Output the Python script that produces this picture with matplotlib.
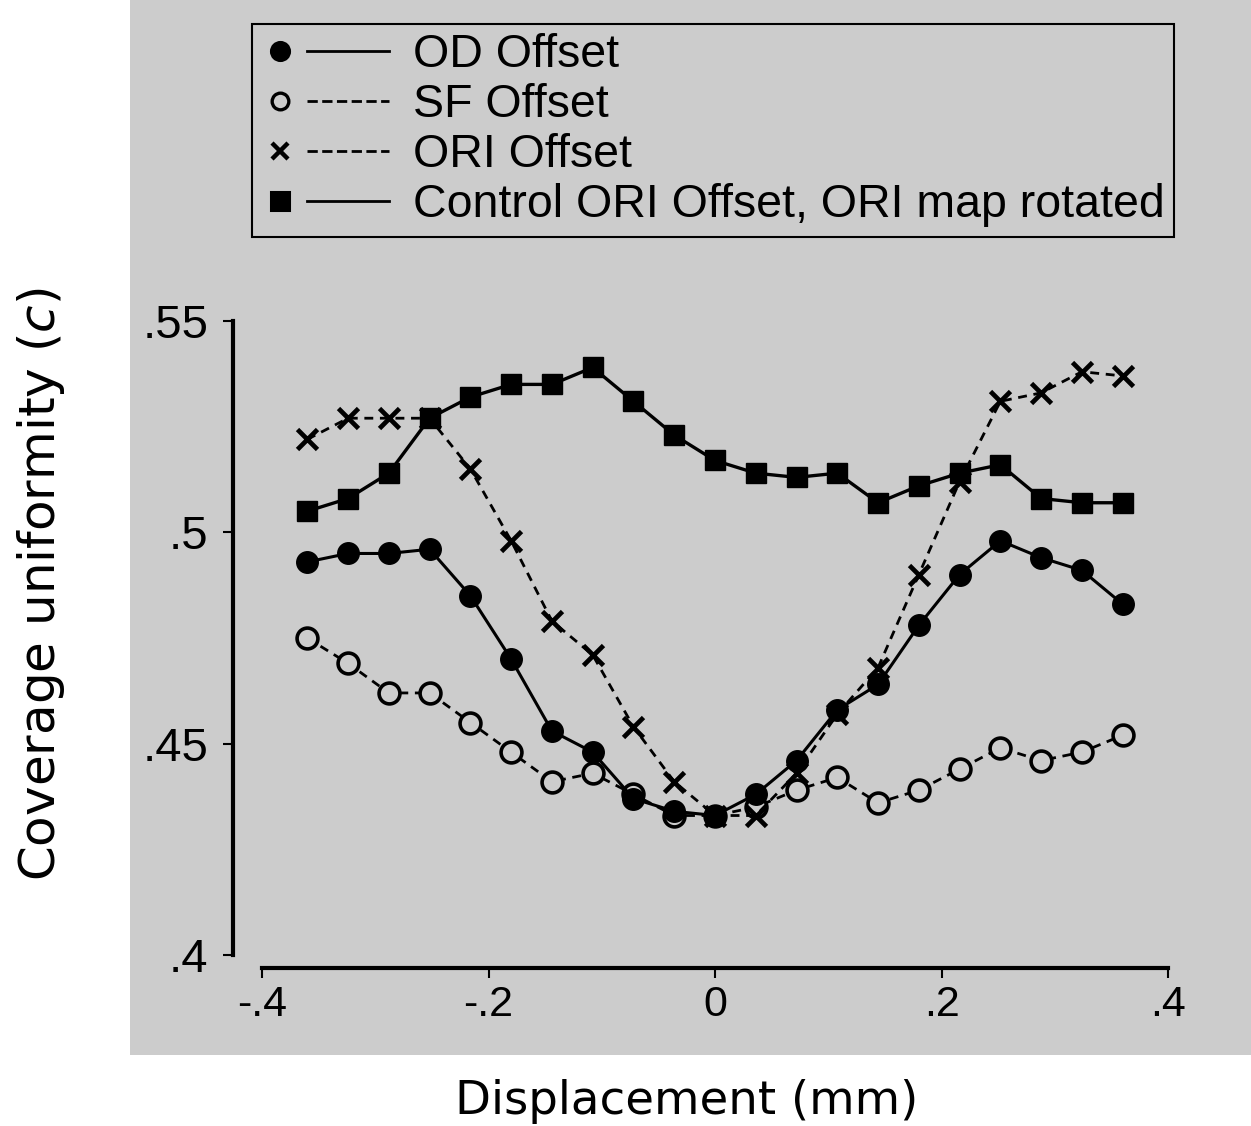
import matplotlib
matplotlib.use("Agg")
import matplotlib.pyplot as plt
from matplotlib.lines import Line2D
from matplotlib.patches import Rectangle
from matplotlib.legend_handler import HandlerBase

# displacement of the offset map (mm)
displacement = [-0.36, -0.324, -0.288, -0.252, -0.216, -0.18, -0.144, -0.108, -0.072, -0.036, 0.0,
                0.036, 0.072, 0.108, 0.144, 0.18, 0.216, 0.252, 0.288, 0.324, 0.36]

od_offset = [0.493, 0.495, 0.495, 0.496, 0.485, 0.470, 0.453, 0.448, 0.437, 0.434, 0.433,
             0.438, 0.446, 0.458, 0.464, 0.478, 0.490, 0.498, 0.494, 0.491, 0.483]
sf_offset = [0.475, 0.469, 0.462, 0.462, 0.455, 0.448, 0.441, 0.443, 0.438, 0.433, 0.433,
             0.435, 0.439, 0.442, 0.436, 0.439, 0.444, 0.449, 0.446, 0.448, 0.452]
ori_offset = [0.522, 0.527, 0.527, 0.527, 0.515, 0.498, 0.479, 0.471, 0.454, 0.441, 0.433,
              0.433, 0.443, 0.457, 0.468, 0.490, 0.512, 0.531, 0.533, 0.538, 0.537]
control_ori = [0.505, 0.508, 0.514, 0.527, 0.532, 0.535, 0.535, 0.539, 0.531, 0.523, 0.517,
               0.514, 0.513, 0.514, 0.507, 0.511, 0.514, 0.516, 0.508, 0.507, 0.507]

labels = ["OD Offset", "SF Offset", "ORI Offset", "Control ORI Offset, ORI map rotated"]
xticks = [-0.4, -0.2, 0.0, 0.2, 0.4]
xticklabels = ["-.4", "-.2", "0", ".2", ".4"]
yticks = [0.4, 0.45, 0.5, 0.55]
yticklabels = [".4", ".45", ".5", ".55"]

GRAY = "#cccccc"
plt.rcParams["mathtext.fontset"] = "custom"
plt.rcParams["mathtext.it"] = "DejaVu Sans:italic"
plt.rcParams["mathtext.rm"] = "DejaVu Sans"


class MarkerThenLine(HandlerBase):
    """Legend handle: the marker on the left, a separate line sample to its right."""

    def create_artists(self, legend, orig_handle, xdescent, ydescent, width, height, fontsize, trans):
        mk, ln = orig_handle
        y = height / 2 - ydescent
        x0 = -xdescent
        m = Line2D([x0 + 0.15 * width], [y], linestyle="none", marker=mk.get_marker(),
                   ms=mk.get_markersize(), mfc=mk.get_markerfacecolor(), mec="black",
                   mew=mk.get_markeredgewidth())
        l = Line2D([x0 + 0.36 * width, x0 + width], [y, y], color="black",
                   lw=ln.get_linewidth(), linestyle=ln.get_linestyle())
        m.set_transform(trans)
        l.set_transform(trans)
        return [m, l]


W, H = 1251, 1126
fig = plt.figure(figsize=(W / 100, H / 100), dpi=100)
fig.patch.set_facecolor("white")
fig.patches.append(Rectangle((130 / W, 1 - 1055 / H), 1 - 130 / W, 1055 / H,
                             transform=fig.transFigure, facecolor=GRAY, edgecolor="none", zorder=-10))

ax = fig.add_axes([262 / W, 1 - 955 / H, 906 / W, 634 / H])
ax.set_facecolor("none")

dash = (0, (3.2, 2.4))
sf, = ax.plot(displacement, sf_offset, color="black", lw=2.0, linestyle=dash, marker="o", ms=15,
              mfc=GRAY, mec="black", mew=2.6, zorder=2)
ori, = ax.plot(displacement, ori_offset, color="black", lw=2.0, linestyle=dash, marker="x", ms=14,
               mec="black", mew=3.4, zorder=3)
od, = ax.plot(displacement, od_offset, color="black", lw=2.2, marker="o", ms=15.5, mfc="black",
              mec="black", zorder=4)
ctrl, = ax.plot(displacement, control_ori, color="black", lw=2.4, marker="s", ms=15, mfc="black",
                mec="black", zorder=5)

ax.set_xlim(-0.4, 0.4)
ax.set_ylim(0.4, 0.55)
ax.spines["top"].set_visible(False)
ax.spines["right"].set_visible(False)
ax.spines["left"].set_position(("outward", 21))
ax.spines["bottom"].set_position(("outward", 9))
ax.spines["left"].set_linewidth(3)
ax.spines["bottom"].set_linewidth(3)
ax.set_xticks(xticks)
ax.set_xticklabels(xticklabels)
ax.set_yticks(yticks)
ax.set_yticklabels(yticklabels)
ax.tick_params(axis="both", length=7.5, width=1.5)
ax.tick_params(axis="y", labelsize=34, pad=10)
ax.tick_params(axis="x", labelsize=31, pad=5)
for t in ax.get_xticklabels() + ax.get_yticklabels():
    t.set_fontfamily("Liberation Sans")

ax.set_xlabel("Displacement (mm)", fontsize=33.6, family="DejaVu Sans")
ax.xaxis.set_label_coords(0.469, -0.195)
ax.set_ylabel(r"Coverage uniformity ($c$)", fontsize=36, family="DejaVu Sans")
ax.yaxis.set_label_coords(-0.215, 0.584)


def marker_only(line, ms, mew=2.2):
    return Line2D([], [], linestyle="none", marker=line.get_marker(), ms=ms,
                  mfc=line.get_markerfacecolor(), mec="black", mew=mew)


def line_only(line):
    return Line2D([], [], color="black", lw=2.0, linestyle=line.get_linestyle())


handles = [(marker_only(h, s, w), line_only(h))
           for h, s, w in ((od, 13, 2.2), (sf, 12, 2.4), (ori, 11, 3.2), (ctrl, 13, 2.2))]
leg = fig.legend(handles, labels, loc="upper left", bbox_to_anchor=(252 / W, 1 - 24 / H),
                 bbox_transform=fig.transFigure, borderaxespad=0, frameon=True, fancybox=False,
                 facecolor=GRAY, edgecolor="black", framealpha=1,
                 prop={"family": "Liberation Sans", "size": 33.5},
                 handler_map={tuple: MarkerThenLine()},
                 handlelength=2.75, handletextpad=0.5, labelspacing=0.13, borderpad=0.2)
leg.get_frame().set_linewidth(1.5)

fig.savefig("out.png", dpi=100, facecolor=fig.get_facecolor())
